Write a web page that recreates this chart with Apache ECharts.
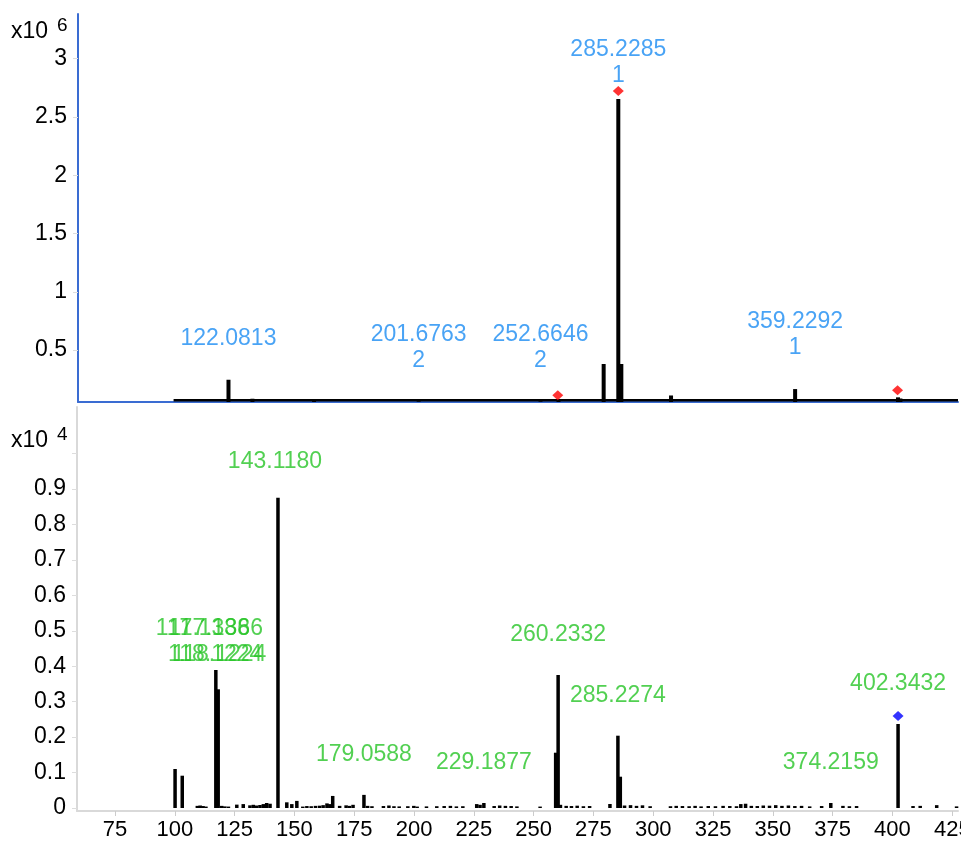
<!DOCTYPE html>
<html><head><meta charset="utf-8">
<script src="https://cdn.jsdelivr.net/npm/echarts@6/dist/echarts.min.js"></script>
<style>html,body{margin:0;padding:0;background:#fff}#c{width:961px;height:844px}</style>
</head><body><div id="c"></div><script>
const FONT = '"Liberation Sans", Arial, Helvetica, sans-serif';

// ---------- MS1 (top panel) ----------
const ms1Mz =        [122.0813, 132.1, 157.9, 201.6763, 252.6646, 260.2, 279.1, 285.2285, 286.5, 307.3, 359.2292, 402.3, 403.3];
const ms1Intensity = [245000,   82000, 72000, 60000,    60000,    75000, 380000, 2655000, 380000, 110000, 165000,  94000, 84000];
const ms1BaselineMz = [99.1, 427.4];
const ms1BaselineIntensity = [69000, 69000];
const ms1LabelMz = [122.0813, 201.6763, 252.6646, 285.2285, 359.2292];
const ms1LabelCharge = ['', '2', '2', '1', '1'];
const ms1PrecursorMz = [259.9, 285.2285, 402.1];
const ms1PrecursorIntensity = [111000, 2724000, 154000];
const ms1TickValues = [500000, 1000000, 1500000, 2000000, 2500000, 3000000];

// ---------- MS2 (bottom panel) ----------
const ms2Mz = [100.1, 103.1, 109.4, 110.6, 111.8, 113.0, 117.1386, 118.1224, 119.6, 120.9, 122.4, 125.9, 128.6,
  131.4, 132.8, 134.2, 135.6, 137.0, 138.4, 139.8, 143.1180, 146.8, 148.9, 151.0, 153.5, 155.2, 157.0, 158.8,
  160.5, 162.0, 163.6, 164.8, 166.0, 168.9, 171.6, 173.0, 174.5, 179.0588, 180.6, 182.4, 187.2, 189.5, 191.6,
  193.8, 197.4, 199.9, 201.3, 205.2, 209.5, 212.6, 215.2, 217.7, 220.4, 226.2, 227.6, 229.1877, 233.5, 235.8,
  238.2, 240.6, 243.0, 252.7, 259.2, 260.2332, 261.2, 263.6, 265.8, 268.2, 270.8, 273.4, 281.9, 285.2274, 286.23,
  288.0, 290.5, 293.0, 295.5, 298.7, 307.2, 309.6, 312.2, 315.0, 317.5, 320.0, 323.0, 326.0, 329.2, 332.0, 334.8,
  336.6, 338.6, 341.0, 343.5, 346.0, 348.6, 351.2, 353.8, 356.5, 359.2, 362.0, 365.4, 370.4, 374.2159, 379.3,
  382.0, 385.0, 402.3432, 408.6, 411.6, 418.5, 426.8];
const ms2Intensity = [1100, 911, 60, 70, 55, 40, 3894, 3349, 60, 45, 40, 95, 110,
  75, 90, 70, 85, 110, 140, 120, 8756, 160, 110, 200, 40, 55, 50, 60,
  65, 80, 130, 110, 340, 60, 75, 60, 90, 370, 60, 50, 55, 70, 50,
  45, 50, 60, 40, 45, 50, 55, 60, 45, 50, 110, 90, 140, 55, 70,
  60, 55, 45, 40, 1560, 3753, 90, 60, 55, 65, 50, 55, 113, 2040, 883,
  70, 80, 60, 75, 50, 50, 60, 55, 50, 60, 45, 55, 50, 60, 55, 50,
  110, 120, 60, 55, 70, 65, 80, 60, 70, 55, 60, 45, 55, 141, 60,
  50, 55, 2370, 55, 60, 80, 45];
const ms2LabelMz = [117.1386, 117.1386, 118.1224, 118.1224, 143.1180, 179.0588, 229.1877, 260.2332, 285.2274, 374.2159, 402.3432];
const ms2PrecursorMz = [402.3432];
const ms2PrecursorIntensity = [2596];
const ms2TickValues = [0, 1000, 2000, 3000, 4000, 5000, 6000, 7000, 8000, 9000, 10000];
const ms2LabelValues = [0, 1000, 2000, 3000, 4000, 5000, 6000, 7000, 8000, 9000];

const mzTickValues = [75, 100, 125, 150, 175, 200, 225, 250, 275, 300, 325, 350, 375, 400, 425];

// ---------- build ----------
const BLUE_AXIS = '#3a6cd2';
const GREY_AXIS = '#d9d9d9';
const BLUE_TXT = '#1b8cf2';
const GREEN_TXT = '#27c427';
const X_MIN = 59.1, X_MAX = 427.4;

function intensityAt(mzArr, intArr, mz) {
  let best = 0, bd = Infinity;
  mzArr.forEach((m, i) => { const d = Math.abs(m - mz); if (d < bd) { bd = d; best = intArr[i]; } });
  return best;
}
const pairs = (a, b) => a.map((v, i) => [v, b[i]]);

// per-label style tweaks (pixel offsets / distances)
const ms1LabelDist = { 3: 10 };
const ms2LabelStyle = { 0: { dx: -13, dist: 30 }, 1: { dx: 0, dist: 30 }, 2: { dx: -3, dist: 23 }, 3: { dx: 1, dist: 23 }, 4: { dx: -3, dist: 25 } };

const ms1LabelData = ms1LabelMz.map((mz, i) => ({
  value: [mz, intensityAt(ms1Mz, ms1Intensity, mz)],
  label: {
    formatter: mz.toFixed(4) + (ms1LabelCharge[i] ? '\n' + ms1LabelCharge[i] : ''),
    distance: ms1LabelDist[i] !== undefined ? ms1LabelDist[i] : 28
  }
}));
const ms2LabelData = ms2LabelMz.map((mz, i) => {
  const st = ms2LabelStyle[i] || { dx: 0, dist: 29 };
  return {
    value: [mz, intensityAt(ms2Mz, ms2Intensity, mz)],
    label: { formatter: mz.toFixed(4), distance: st.dist, offset: [st.dx, 0] }
  };
});

const xAxisCommon = { type: 'value', min: X_MIN, max: X_MAX, splitLine: { show: false } };

const option = {
  animation: false,
  backgroundColor: '#fff',
  textStyle: { fontFamily: FONT },
  grid: [
    { left: 78, right: 3, top: 14, height: 388, outerBoundsMode: 'none', containLabel: false },
    { left: 77, right: 3, top: 407, bottom: 33, outerBoundsMode: 'none', containLabel: false }
  ],
  xAxis: [
    Object.assign({}, xAxisCommon, {
      gridIndex: 0,
      axisLine: { show: true, lineStyle: { color: BLUE_AXIS, width: 2 } },
      axisTick: { show: false }, axisLabel: { show: false }
    }),
    Object.assign({}, xAxisCommon, {
      gridIndex: 1,
      axisLine: { show: true, onZero: false, lineStyle: { color: GREY_AXIS, width: 2 } },
      axisTick: { show: true, length: 5, customValues: mzTickValues, lineStyle: { color: '#cccccc' } },
      axisLabel: { customValues: mzTickValues, color: '#000', fontSize: 22, fontFamily: FONT, margin: 8, hideOverlap: false, showMinLabel: true, showMaxLabel: true }
    })
  ],
  yAxis: [
    {
      type: 'value', gridIndex: 0, min: 54000, max: 3384000,
      splitLine: { show: false },
      axisLine: { show: true, onZero: false, lineStyle: { color: BLUE_AXIS, width: 2 } },
      axisTick: { show: true, length: 5, customValues: ms1TickValues, lineStyle: { color: '#dddddd' } },
      axisLabel: { customValues: ms1TickValues, color: '#000', fontSize: 23, fontFamily: FONT, margin: 11,
        formatter: v => String(+(v / 1e6).toFixed(1)) }
    },
    {
      type: 'value', gridIndex: 1, min: -85, max: 11315,
      splitLine: { show: false },
      axisLine: { show: true, onZero: false, lineStyle: { color: GREY_AXIS, width: 2 } },
      axisTick: { show: true, length: 5, customValues: ms2TickValues, lineStyle: { color: '#dddddd' } },
      axisLabel: { customValues: ms2LabelValues, color: '#000', fontSize: 23, fontFamily: FONT, margin: 11,
        formatter: v => String(+(v / 1e4).toFixed(1)) }
    }
  ],
  graphic: [
    { type: 'text', x: 11, y: 32, style: { text: 'x10', font: '23px ' + FONT, fill: '#000', textVerticalAlign: 'middle' } },
    { type: 'text', x: 57, y: 26, style: { text: '6', font: '19px ' + FONT, fill: '#000', textVerticalAlign: 'middle' } },
    { type: 'text', x: 11, y: 441, style: { text: 'x10', font: '23px ' + FONT, fill: '#000', textVerticalAlign: 'middle' } },
    { type: 'text', x: 57, y: 435, style: { text: '4', font: '19px ' + FONT, fill: '#000', textVerticalAlign: 'middle' } }
  ],
  series: [
    {
      type: 'line', xAxisIndex: 0, yAxisIndex: 0, data: pairs(ms1BaselineMz, ms1BaselineIntensity),
      symbol: 'none', lineStyle: { color: '#000', width: 2.5 }, z: 2, silent: true
    },
    {
      type: 'bar', xAxisIndex: 0, yAxisIndex: 0, data: pairs(ms1Mz, ms1Intensity),
      barWidth: 4, itemStyle: { color: '#000' }, clip: true, z: 3
    },
    {
      type: 'scatter', xAxisIndex: 0, yAxisIndex: 0, data: pairs(ms1PrecursorMz, ms1PrecursorIntensity),
      symbol: 'diamond', symbolSize: [11, 10], itemStyle: { color: '#ff0000' }, z: 5
    },
    {
      type: 'scatter', xAxisIndex: 0, yAxisIndex: 0, data: ms1LabelData,
      symbolSize: 0, itemStyle: { color: 'transparent' }, z: 6,
      label: { show: true, position: 'top', color: BLUE_TXT, fontSize: 23, fontFamily: FONT, lineHeight: 26, align: 'center' }
    },
    {
      type: 'bar', xAxisIndex: 1, yAxisIndex: 1, data: pairs(ms2Mz, ms2Intensity),
      barWidth: 3.5, itemStyle: { color: '#000' }, clip: true, z: 3
    },
    {
      type: 'scatter', xAxisIndex: 1, yAxisIndex: 1, data: pairs(ms2PrecursorMz, ms2PrecursorIntensity),
      symbol: 'diamond', symbolSize: [11, 10], itemStyle: { color: '#0000ff' }, z: 5
    },
    {
      type: 'scatter', xAxisIndex: 1, yAxisIndex: 1, data: ms2LabelData,
      symbolSize: 0, itemStyle: { color: 'transparent' }, z: 6,
      label: { show: true, position: 'top', color: GREEN_TXT, fontSize: 23, fontFamily: FONT, align: 'center' }
    }
  ]
};

const chart = echarts.init(document.getElementById('c'), null, { renderer: 'canvas' });
chart.setOption(option);
</script></body></html>
